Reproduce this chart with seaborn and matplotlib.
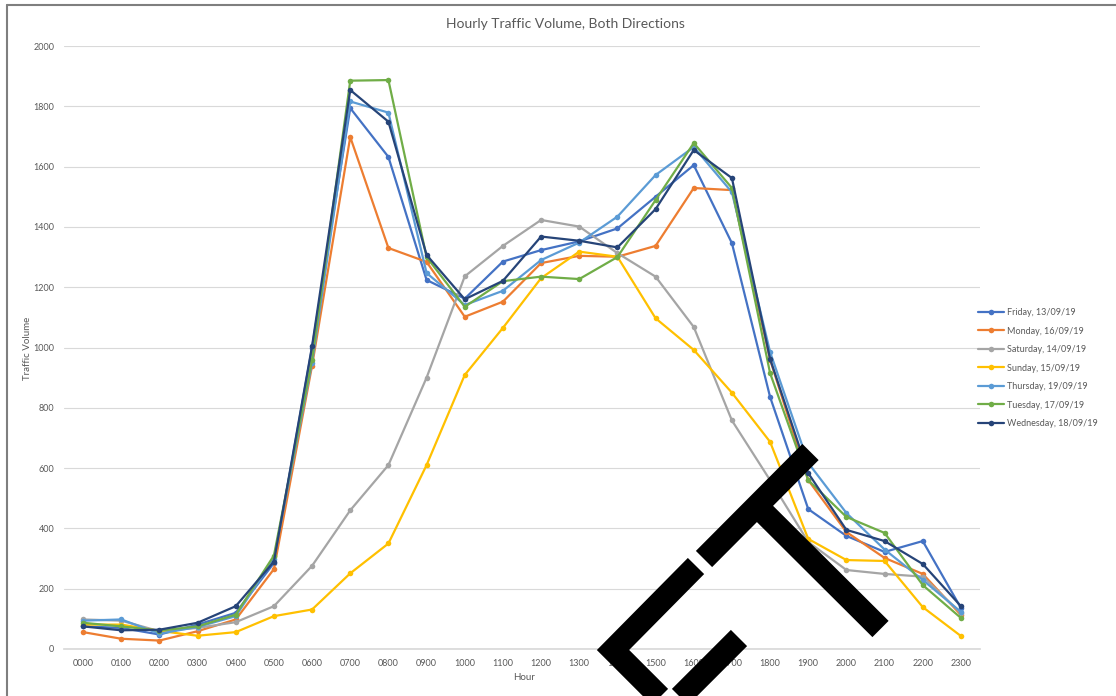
import pandas as pd
import matplotlib
matplotlib.use("Agg")
import matplotlib.pyplot as plt
import seaborn as sns
from matplotlib.lines import Line2D

# --- data ---
hours = ["0000", "0100", "0200", "0300", "0400", "0500", "0600", "0700",
         "0800", "0900", "1000", "1100", "1200", "1300", "1400", "1500",
         "1600", "1700", "1800", "1900", "2000", "2100", "2200", "2300"]

friday = [75, 70, 48, 81, 120, 285, 1000, 1794, 1632, 1224, 1162, 1285,
          1323, 1352, 1395, 1500, 1605, 1346, 836, 464, 375, 322, 358, 136]
monday = [56, 34, 28, 59, 98, 265, 940, 1698, 1330, 1284, 1102, 1152,
          1280, 1304, 1301, 1337, 1529, 1522, 960, 560, 388, 302, 249, 113]
saturday = [98, 94, 59, 70, 89, 142, 276, 460, 610, 900, 1236, 1337,
            1423, 1401, 1313, 1235, 1068, 758, 560, 355, 262, 249, 240, 119]
sunday = [81, 81, 60, 44, 56, 109, 131, 251, 350, 610, 909, 1065,
          1230, 1318, 1301, 1097, 992, 850, 687, 365, 295, 292, 139, 43]
thursday = [94, 98, 51, 73, 109, 300, 950, 1816, 1779, 1247, 1141, 1188,
            1290, 1348, 1434, 1572, 1665, 1515, 985, 617, 451, 330, 229, 123]
tuesday = [87, 75, 61, 75, 114, 310, 960, 1885, 1887, 1300, 1135, 1220,
           1235, 1227, 1300, 1489, 1678, 1529, 915, 560, 438, 385, 212, 103]
wednesday = [75, 62, 64, 87, 142, 290, 1005, 1854, 1749, 1307, 1160, 1221,
             1368, 1354, 1332, 1459, 1655, 1562, 962, 583, 395, 358, 282, 142]

days = ["Friday, 13/09/19", "Monday, 16/09/19", "Saturday, 14/09/19",
        "Sunday, 15/09/19", "Thursday, 19/09/19", "Tuesday, 17/09/19",
        "Wednesday, 18/09/19"]
series = [friday, monday, saturday, sunday, thursday, tuesday, wednesday]
colors = ["#4472C4", "#ED7D31", "#A5A5A5", "#FFC000", "#5B9BD5", "#70AD47", "#264478"]

# --- long form table for seaborn ---
rows = []
for day, vals in zip(days, series):
    for i, v in enumerate(vals):
        rows.append({"hour": i, "day": day, "volume": v})
df = pd.DataFrame(rows)

sns.set_theme(style="white")
plt.rcParams["font.family"] = ["Lato", "DejaVu Sans"]

W, H = 1116, 696
fig = plt.figure(figsize=(W / 100, H / 100), dpi=100)
ax = fig.add_axes([64 / W, 47 / H, 916 / W, 603 / H])

sns.lineplot(data=df, x="hour", y="volume", hue="day", hue_order=days,
             palette=dict(zip(days, colors)), marker="o", markersize=4,
             markeredgewidth=0, linewidth=1.6, ax=ax)

txt = "#595959"
ax.set_xlim(-0.5, 23.5)
ax.set_ylim(0, 2000)
ax.set_xticks(range(len(hours)))
ax.set_xticklabels(hours)
ax.set_yticks(range(0, 2001, 200))
ax.tick_params(axis="both", length=0, labelsize=6.5, colors=txt, pad=7)
ax.yaxis.grid(True, color="#d9d9d9", linewidth=0.8)
ax.set_axisbelow(True)
for s in ["top", "right", "left"]:
    ax.spines[s].set_visible(False)
ax.spines["bottom"].set_color("#d9d9d9")
ax.set_xlabel("")
ax.set_ylabel("")

fig.text(565 / W, 1 - 24 / H, "Hourly Traffic Volume, Both Directions",
         ha="center", va="center", fontsize=10, color=txt)
fig.text(524 / W, 1 - 678 / H, "Hour", ha="center", va="center",
         fontsize=7, color=txt)
fig.text(28 / W, 1 - 348 / H, "Traffic Volume", ha="center", va="center",
         rotation=90, fontsize=7, color=txt)

ax.legend(loc="upper left", bbox_to_anchor=(970 / W, 1 - 300 / H),
          bbox_transform=fig.transFigure, frameon=False, fontsize=6.5,
          labelspacing=1.05, handlelength=2.9, handletextpad=0.3,
          labelcolor=txt)

# outer chart frame
frame = dict(color="#7f7f7f", linewidth=1.5, transform=fig.transFigure)
fig.add_artist(Line2D([7 / W, 7 / W], [0, 1 - 5 / H], **frame))
fig.add_artist(Line2D([7 / W, 1], [1 - 5 / H, 1 - 5 / H], **frame))

# black "CT" stamp over the plot
def px(xs, ys):
    return [x / W for x in xs], [1 - y / H for y in ys]

stamp = dict(color="black", linewidth=16.5, solid_capstyle="butt",
             solid_joinstyle="miter", transform=fig.transFigure, zorder=5)
fig.add_artist(Line2D(*px([696, 613, 670, 739], [566, 650, 707, 638]), **stamp))
fig.add_artist(Line2D(*px([704, 810.5], [559, 452]), **stamp))
fig.add_artist(Line2D(*px([757, 880.5], [506, 629]), **stamp))

fig.savefig("out.png", dpi=100)
plt.close(fig)
